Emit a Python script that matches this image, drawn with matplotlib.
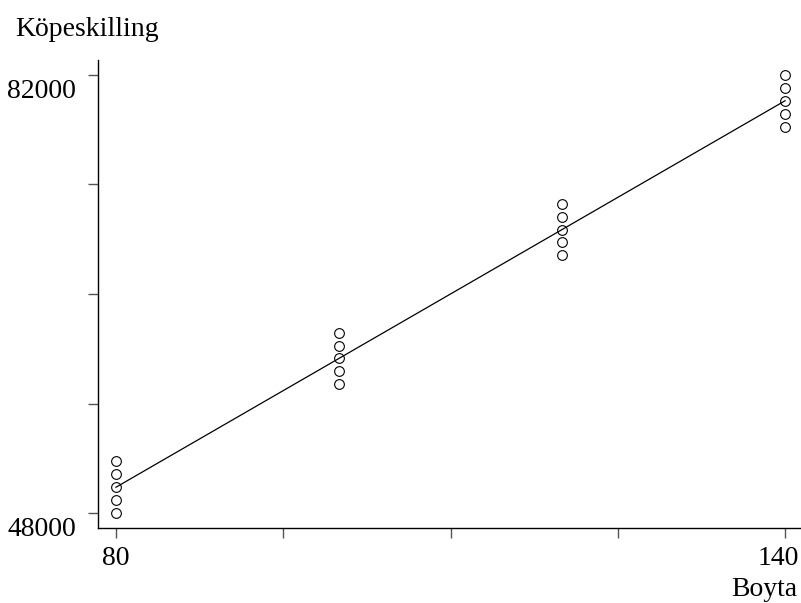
import matplotlib
matplotlib.use("Agg")
import matplotlib.pyplot as plt
import matplotlib.transforms as mtransforms
import numpy as np

plt.rcParams['font.family'] = ['Liberation Serif', 'DejaVu Serif']

# living area (m2) and purchase price, five sales per size
boyta = [80, 80, 80, 80, 80,
         100, 100, 100, 100, 100,
         120, 120, 120, 120, 120,
         140, 140, 140, 140, 140]
pris = [48000, 49000, 50000, 51000, 52000,
        58000, 59000, 60000, 61000, 62000,
        68000, 69000, 70000, 71000, 72000,
        78000, 79000, 80000, 81000, 82000]

x_ticks = [80, 95, 110, 125, 140]
x_labels = ['80', '', '', '', '140']
y_ticks = [48000, 56500, 65000, 73500, 82000]
y_labels = ['48000', '', '', '', '82000']

x = np.array(boyta, dtype=float)
y = np.array(pris, dtype=float)
k, m = np.polyfit(x, y, 1)
x_fit = np.array([min(boyta), max(boyta)])

fig = plt.figure(figsize=(8.01, 6.03), dpi=100)
ax = fig.add_axes([98 / 801, 75 / 603, 1 - 98 / 801, (528 - 60) / 603])

ax.plot(x_fit, k * x_fit + m, color='black', lw=0.9)
ax.plot(x, y, ls='', marker='o', ms=7, mfc='none', mec='black', mew=0.8)

ax.set_xlim(78.39, 141.43)
ax.set_ylim(46836, 83164)

ax.spines['top'].set_visible(False)
ax.spines['right'].set_visible(False)
for s in ('left', 'bottom'):
    ax.spines[s].set_linewidth(1.0)

ax.set_xticks(x_ticks)
ax.set_xticklabels(x_labels)
ax.set_yticks(y_ticks)
ax.set_yticklabels(y_labels)
ax.tick_params(axis='both', direction='out', length=7, width=1.0,
               color='#555555', labelsize=20)
ax.tick_params(axis='x', pad=6)
ax.tick_params(axis='y', pad=9)

# y labels hang below their ticks
down = mtransforms.ScaledTranslation(0, -3 / 72, fig.dpi_scale_trans)
for lab in ax.get_yticklabels():
    lab.set_verticalalignment('top')
    lab.set_transform(lab.get_transform() + down)

# keep the last x label inside the figure
xlabs = ax.get_xticklabels()
shift = mtransforms.ScaledTranslation(-5 / 72, 0, fig.dpi_scale_trans)
xlabs[-1].set_transform(xlabs[-1].get_transform() + shift)
xlabs[-1].set_horizontalalignment('center')

fig.text(15 / 801, 1 - 29 / 603, 'Köpeskilling', fontsize=20, va='center', ha='left')
fig.text(797 / 801, 7 / 603, 'Boyta', fontsize=20, va='baseline', ha='right')

fig.savefig('out.png', dpi=100)
